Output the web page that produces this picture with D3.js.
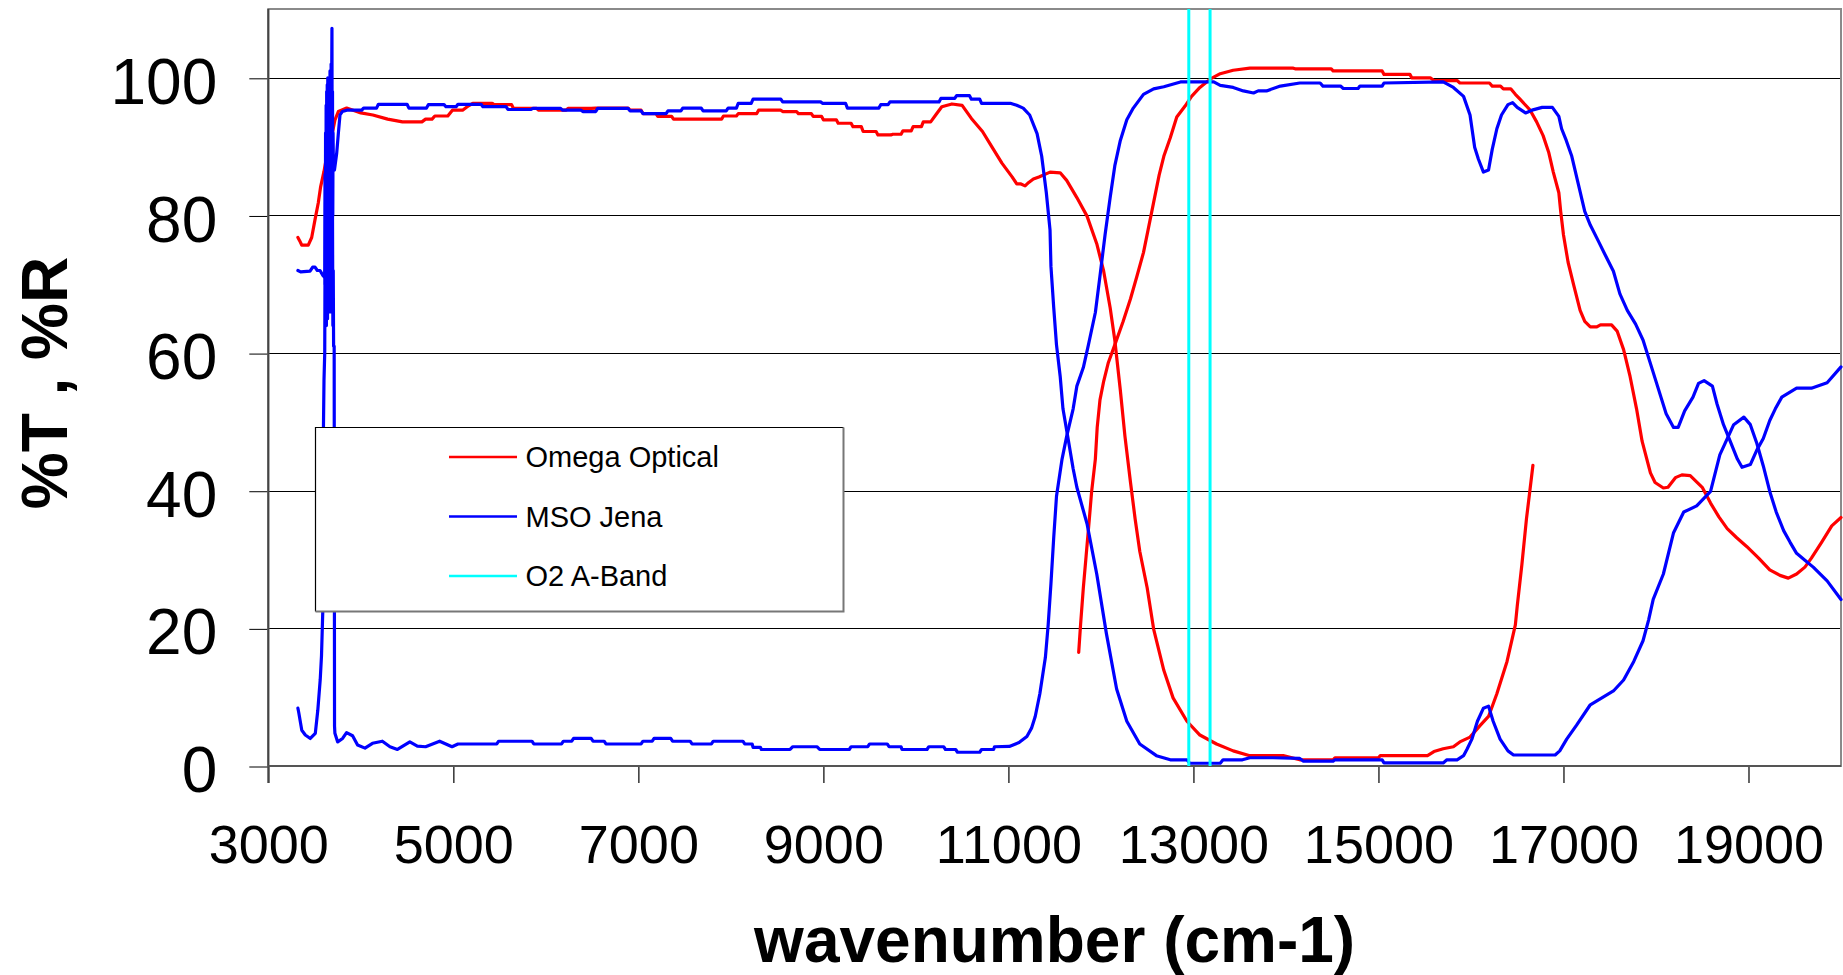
<!DOCTYPE html>
<html><head><meta charset="utf-8">
<script src="https://cdn.jsdelivr.net/npm/d3@7"></script>
<style>body{margin:0;background:#fff} svg{display:block}</style>
</head><body>
<svg id="chart" width="1843" height="975"></svg>
<script>
// ---------------- DATA ----------------
const xTicks = [3000, 5000, 7000, 9000, 11000, 13000, 15000, 17000, 19000];
const yTicks = [0, 20, 40, 60, 80, 100];
const seriesNames = ["Omega Optical", "MSO Jena", "O2 A-Band"];
const seriesColors = ["#ff0000", "#0000ff", "#00ffff"];
const o2Band = [12950, 13180];

// Omega Optical, curve high at low wavenumber
const omegaT = [[3320,76.8],[3340,76.3],[3361,75.7],[3432,75.7],[3469,76.8],[3505,79.4],[3540,81.8],[3566,84.2],[3602,86.4],[3631,88.6],[3685,91.5],[3721,93.9],[3757,95.1],[3847,95.6],[3955,95.1],[4000,94.9],[4130,94.6],[4290,94.0],[4450,93.6],[4660,93.6],[4700,94.0],[4770,94.0],[4800,94.45],[4940,94.45],[4990,95.3],[5100,95.3],[5150,95.8],[5210,96.3],[5420,96.3],[5440,96.1],[5630,96.1],[5650,95.55],[5900,95.55],[5920,95.3],[6220,95.3],[6240,95.55],[6490,95.55],[6540,95.6],[6890,95.6],[6910,95.3],[7030,95.3],[7050,94.8],[7190,94.8],[7210,94.4],[7360,94.4],[7380,94.0],[7900,94.0],[7920,94.45],[8060,94.45],[8080,94.8],[8280,94.8],[8300,95.3],[8540,95.3],[8560,95.1],[8710,95.1],[8730,94.8],[8870,94.8],[8890,94.4],[8980,94.4],[9000,93.9],[9140,93.9],[9160,93.4],[9300,93.4],[9320,92.9],[9410,92.9],[9430,92.2],[9570,92.2],[9590,91.7],[9730,91.7],[9750,91.8],[9840,91.8],[9860,92.3],[9950,92.3],[9970,92.9],[10060,92.9],[10080,93.6],[10160,93.6],[10220,94.7],[10280,95.8],[10390,96.2],[10500,96.0],[10600,94.1],[10720,92.2],[10820,90.0],[10930,87.6],[11040,85.6],[11090,84.6],[11130,84.6],[11180,84.3],[11220,84.8],[11270,85.3],[11330,85.6],[11450,86.3],[11560,86.2],[11630,85.1],[11740,82.6],[11850,79.9],[11955,75.9],[12030,71.9],[12100,66.6],[12150,61.9],[12210,54.6],[12260,47.9],[12320,41.2],[12370,35.9],[12420,31.2],[12500,25.9],[12570,19.9],[12680,13.9],[12780,9.9],[12930,6.5],[13070,4.5],[13250,3.2],[13430,2.2],[13610,1.5],[13970,1.5],[14150,0.9],[14510,0.9],[14530,1.2],[15000,1.2],[15020,1.5],[15530,1.5],[15600,2.1],[15700,2.5],[15810,2.8],[15880,3.5],[15990,4.2],[16100,5.9],[16190,7.2],[16280,10.5],[16390,15.2],[16480,20.5],[16500,23.2],[16550,29.2],[16600,35.9],[16670,43.7]];

// Omega Optical, curve rising from 11760
const omegaR = [[11760,16.5],[11780,20.5],[11810,25.9],[11840,30.5],[11875,35.9],[11900,39.9],[11940,44.6],[11960,49.2],[11990,53.2],[12030,55.9],[12080,58.6],[12150,61.2],[12240,64.6],[12320,67.9],[12390,71.2],[12460,74.6],[12510,77.9],[12570,81.9],[12630,85.9],[12680,88.6],[12750,91.3],[12820,94.3],[12910,95.9],[12980,97.3],[13070,98.6],[13180,99.8],[13290,100.6],[13430,101.1],[13610,101.4],[14080,101.4],[14100,101.3],[14490,101.3],[14510,101.0],[15040,101.0],[15060,100.5],[15340,100.5],[15360,100.0],[15560,100.0],[15600,99.6],[15850,99.6],[15880,99.25],[16200,99.25],[16230,98.8],[16320,98.8],[16350,98.4],[16430,98.4],[16480,97.6],[16530,96.9],[16640,95.3],[16710,93.6],[16780,91.6],[16840,89.2],[16890,86.3],[16950,83.3],[16970,80.6],[17000,77.2],[17050,73.2],[17110,69.9],[17180,66.2],[17230,64.6],[17290,63.8],[17360,63.8],[17400,64.1],[17520,64.1],[17580,63.2],[17650,60.5],[17720,56.6],[17790,51.9],[17850,47.2],[17940,42.6],[17990,41.2],[18080,40.4],[18130,40.5],[18210,41.9],[18280,42.3],[18370,42.2],[18500,40.5],[18590,38.2],[18680,36.2],[18770,34.5],[18870,33.2],[18980,31.9],[19110,30.2],[19230,28.5],[19340,27.7],[19430,27.3],[19520,27.9],[19610,28.9],[19680,30.2],[19790,32.5],[19900,34.9],[20000,36.1]];

// MSO Jena, curve high at low wavenumber
const msoT = [[3320,72.0],[3350,71.8],[3451,71.9],[3480,72.5],[3505,72.5],[3530,72.0],[3559,72.0],[3590,71.3],[3610,71.0],[3613,86],[3616,70],[3619,92],[3622,68],[3625,96],[3628,72],[3631,98],[3634,70],[3637,99],[3640,74],[3643,100],[3646,69],[3649,98],[3652,76],[3655,100],[3658,70],[3661,99],[3664,75],[3667,101],[3670,72],[3673,99],[3676,78],[3679,102],[3682,74],[3685,100],[3688,107.2],[3691,84],[3694,98],[3697,80],[3700,92],[3704,86.6],[3715,86.6],[3739,89.0],[3757,91.9],[3775,94.6],[3800,95.1],[3850,95.3],[4010,95.3],[4030,95.6],[4170,95.6],[4190,96.15],[4500,96.15],[4520,95.6],[4710,95.6],[4730,96.1],[4900,96.1],[4920,95.8],[5030,95.8],[5050,96.15],[5300,96.15],[5320,95.8],[5570,95.8],[5590,95.4],[5840,95.4],[5860,95.55],[6160,95.55],[6180,95.3],[6380,95.3],[6400,95.1],[6540,95.1],[6560,95.55],[6890,95.55],[6910,95.2],[7030,95.2],[7050,94.8],[7300,94.8],[7320,95.2],[7460,95.2],[7480,95.6],[7680,95.6],[7700,95.2],[7950,95.2],[7970,95.6],[8060,95.6],[8080,96.3],[8220,96.3],[8240,96.9],[8540,96.9],[8560,96.5],[8970,96.5],[8990,96.3],[9240,96.3],[9260,95.6],[9600,95.6],[9620,96.1],[9700,96.1],[9720,96.5],[10250,96.5],[10270,97.0],[10420,97.0],[10440,97.4],[10580,97.4],[10600,96.9],[10690,96.9],[10710,96.3],[11020,96.3],[11090,96.0],[11160,95.6],[11230,94.6],[11310,91.9],[11360,88.6],[11410,83.3],[11450,77.9],[11460,72.6],[11490,66.6],[11520,61.2],[11560,56.6],[11590,51.9],[11650,47.2],[11700,43.2],[11740,40.5],[11850,35.2],[11955,27.9],[12060,19.2],[12170,11.2],[12280,6.5],[12420,3.2],[12600,1.5],[12750,0.9],[12930,0.9],[12960,0.4],[13290,0.4],[13320,0.9],[13530,0.9],[13610,1.2],[13860,1.2],[14150,1.1],[14190,0.7],[14510,0.7],[14530,0.9],[15040,0.9],[15060,0.45],[15700,0.45],[15740,0.9],[15850,0.9],[15920,1.5],[15960,2.5],[16010,3.9],[16070,6.5],[16135,8.4],[16190,8.7],[16240,6.5],[16315,3.9],[16400,2.2],[16460,1.6],[16910,1.6],[16960,2.2],[17035,3.9],[17140,5.9],[17290,8.9],[17540,10.9],[17650,12.5],[17760,15.2],[17860,18.2],[17920,21.2],[17970,24.2],[18080,27.9],[18190,33.9],[18300,36.9],[18440,37.8],[18590,39.9],[18690,45.2],[18840,49.6],[18950,50.7],[19020,49.6],[19090,46.9],[19160,43.6],[19230,39.9],[19300,36.9],[19380,34.2],[19450,32.5],[19520,30.9],[19610,29.9],[19700,28.9],[19850,26.9],[20000,24.2]];

// MSO Jena, curve low at low wavenumber
const msoR = [[3320,8.4],[3330,7.7],[3362,5.2],[3400,4.5],[3454,4.0],[3508,4.75],[3535,8.1],[3561,12.5],[3575,16],[3590,23],[3596,49],[3602,56],[3610,60],[3613,72],[3616,64],[3619,82],[3622,66],[3625,85],[3628,64],[3631,84],[3634,67],[3637,86],[3640,65],[3643,88],[3646,68],[3649,86],[3652,66],[3655,90],[3658,70],[3661,85],[3664,66],[3667,88],[3670,68],[3673,84],[3676,66],[3679,86],[3682,70],[3686,82],[3690,66],[3694,80],[3698,64],[3702,72],[3706,61],[3712,61],[3716,5.8],[3720,4.75],[3750,3.5],[3803,4.0],[3846,4.85],[3911,4.4],[3965,3.05],[4045,2.6],[4126,3.3],[4233,3.6],[4315,2.8],[4396,2.4],[4530,3.5],[4611,2.9],[4700,2.8],[4852,3.6],[4986,2.8],[5050,3.2],[5470,3.2],[5490,3.6],[5850,3.6],[5870,3.2],[6170,3.2],[6190,3.6],[6280,3.6],[6300,4.0],[6490,4.0],[6510,3.6],[6630,3.6],[6650,3.2],[7030,3.2],[7050,3.6],[7150,3.6],[7170,4.0],[7350,4.0],[7370,3.6],[7560,3.6],[7580,3.2],[7790,3.2],[7810,3.6],[8130,3.6],[8150,3.2],[8230,3.2],[8240,2.7],[8320,2.7],[8330,2.4],[8640,2.4],[8670,2.8],[8930,2.8],[8960,2.4],[9280,2.4],[9300,2.8],[9480,2.8],[9500,3.2],[9690,3.2],[9710,2.8],[9840,2.8],[9850,2.4],[10120,2.4],[10140,2.8],[10300,2.8],[10320,2.4],[10430,2.4],[10450,2.0],[10690,2.0],[10710,2.4],[10840,2.4],[10850,2.8],[11010,2.85],[11115,3.4],[11200,4.3],[11250,5.5],[11290,7.2],[11340,10.5],[11400,15.8],[11430,20.5],[11460,26.5],[11490,33.2],[11520,39.2],[11580,44.6],[11630,47.9],[11700,51.9],[11740,55.2],[11810,57.9],[11865,61.2],[11940,65.9],[11990,71.2],[12045,77.2],[12100,82.6],[12150,87.2],[12210,90.9],[12280,93.9],[12350,95.6],[12460,97.6],[12570,98.4],[12680,98.7],[12860,99.4],[13220,99.4],[13290,98.9],[13430,98.6],[13540,98.1],[13650,97.8],[13700,98.1],[13790,98.1],[13940,98.8],[14150,99.25],[14370,99.25],[14400,98.8],[14590,98.8],[14620,98.45],[14780,98.45],[14800,98.8],[15040,98.8],[15060,99.25],[15700,99.4],[15810,98.6],[15920,97.3],[15990,94.6],[16040,89.9],[16080,88.2],[16135,86.3],[16190,86.6],[16230,89.6],[16280,92.6],[16330,94.6],[16400,96.1],[16450,96.4],[16500,95.7],[16590,94.9],[16660,95.3],[16770,95.7],[16880,95.7],[16950,94.4],[16980,92.6],[17030,90.9],[17090,88.6],[17160,84.6],[17230,80.6],[17290,78.6],[17380,76.2],[17450,74.3],[17540,71.9],[17610,68.6],[17690,66.2],[17780,64.2],[17860,61.9],[17970,57.2],[18110,51.2],[18190,49.2],[18240,49.2],[18310,51.6],[18400,53.6],[18460,55.6],[18520,56.0],[18610,55.2],[18660,52.6],[18730,49.6],[18790,47.6],[18880,44.6],[18930,43.4],[19020,43.8],[19090,45.9],[19160,47.6],[19230,50.2],[19290,51.9],[19360,53.6],[19520,54.9],[19680,54.9],[19850,55.7],[20000,58.0]];

// ---------------- CHART ----------------
const svg = d3.select("#chart");
const FONT = "'Liberation Sans', Arial, Helvetica, sans-serif";
const plot = {left: 268.3, right: 1841, top: 9, bottom: 766};
const x = d3.scaleLinear().domain([3000, 20000]).range([plot.left, plot.right]);
const y = d3.scaleLinear().domain([0, 110]).range([plot.bottom, plot.top]);

svg.append("rect").attr("width", 1843).attr("height", 975).attr("fill", "#fff");

// gridlines
svg.append("g").selectAll("line").data(yTicks).join("line")
  .attr("x1", plot.left).attr("x2", plot.right)
  .attr("y1", d => Math.round(y(d)) + 0.5).attr("y2", d => Math.round(y(d)) + 0.5)
  .attr("stroke", "#000").attr("stroke-width", 1);

// y axis
const yAxis = svg.append("g").attr("transform", `translate(${plot.left},0)`)
  .call(d3.axisLeft(y).tickValues(yTicks).tickSize(19).tickPadding(32).tickSizeOuter(0));
yAxis.select(".domain").remove();
yAxis.selectAll(".tick line").attr("stroke", "#000").attr("stroke-width", 1)
  .attr("transform", "translate(0,0.5)");
yAxis.selectAll(".tick text").attr("font-family", FONT).attr("font-size", 64)
  .attr("fill", "#000").attr("dy", "0.4em");

// x axis
const xAxis = svg.append("g").attr("transform", `translate(0,${plot.bottom})`)
  .call(d3.axisBottom(x).tickValues(xTicks).tickSize(17).tickSizeOuter(0).tickFormat(d3.format("d")));
xAxis.select(".domain").remove();
xAxis.selectAll(".tick line").attr("stroke", "#333").attr("stroke-width", 1.5);
xAxis.selectAll(".tick text").attr("font-family", FONT).attr("font-size", 54)
  .attr("fill", "#000").attr("y", 97).attr("dy", 0);

// frame
svg.append("rect").attr("x", plot.left).attr("y", plot.top)
  .attr("width", plot.right - plot.left).attr("height", plot.bottom - plot.top)
  .attr("fill", "none").attr("stroke", "#8a8a8a").attr("stroke-width", 2);
svg.append("line").attr("x1", plot.left).attr("x2", plot.left).attr("y1", plot.top).attr("y2", plot.bottom + 17)
  .attr("stroke", "#444").attr("stroke-width", 2);
svg.append("line").attr("x1", plot.left).attr("x2", plot.right).attr("y1", plot.bottom).attr("y2", plot.bottom)
  .attr("stroke", "#555").attr("stroke-width", 2);

// curves
const line = d3.line().x(d => x(d[0])).y(d => y(d[1]));
const curves = [
  {data: omegaT, color: seriesColors[0]},
  {data: omegaR, color: seriesColors[0]},
  {data: msoT, color: seriesColors[1]},
  {data: msoR, color: seriesColors[1]}
];
svg.append("g").selectAll("path").data(curves).join("path")
  .attr("d", d => line(d.data)).attr("fill", "none")
  .attr("stroke", d => d.color).attr("stroke-width", 3.2)
  .attr("stroke-linejoin", "round").attr("stroke-linecap", "round");

// O2 A-band
svg.append("g").selectAll("line").data(o2Band).join("line")
  .attr("x1", d => x(d)).attr("x2", d => x(d))
  .attr("y1", y(0)).attr("y2", y(110))
  .attr("stroke", seriesColors[2]).attr("stroke-width", 3);

// legend
const lg = {x: 315.5, y: 427.5, w: 528, h: 184};
const leg = svg.append("g");
leg.append("rect").attr("x", lg.x).attr("y", lg.y).attr("width", lg.w).attr("height", lg.h).attr("fill", "#fff");
leg.append("path").attr("d", `M${lg.x},${lg.y + lg.h}V${lg.y}H${lg.x + lg.w}`)
  .attr("fill", "none").attr("stroke", "#000").attr("stroke-width", 1.2);
leg.append("path").attr("d", `M${lg.x},${lg.y + lg.h}H${lg.x + lg.w}V${lg.y}`)
  .attr("fill", "none").attr("stroke", "#777").attr("stroke-width", 2);
const rows = leg.selectAll("g.row").data(seriesNames).join("g").attr("class", "row")
  .attr("transform", (d, i) => `translate(0,${lg.y + 29.5 + i * 59.5})`);
rows.append("line").attr("x1", 449).attr("x2", 517).attr("y1", 0).attr("y2", 0)
  .attr("stroke", (d, i) => seriesColors[i]).attr("stroke-width", 2.5);
rows.append("text").attr("x", 525.5).attr("y", 10.3).text(d => d)
  .attr("font-family", FONT).attr("font-size", 29).attr("fill", "#000");

// axis titles
svg.append("text").attr("x", (plot.left + plot.right) / 2).attr("y", 962)
  .attr("text-anchor", "middle").attr("font-family", FONT).attr("font-weight", "bold")
  .attr("font-size", 64).text("wavenumber (cm-1)");
svg.append("text").attr("transform", "translate(67,383) rotate(-90)")
  .attr("text-anchor", "middle").attr("font-family", FONT).attr("font-weight", "bold")
  .attr("font-size", 64).text("%T , %R");
</script>
</body></html>
